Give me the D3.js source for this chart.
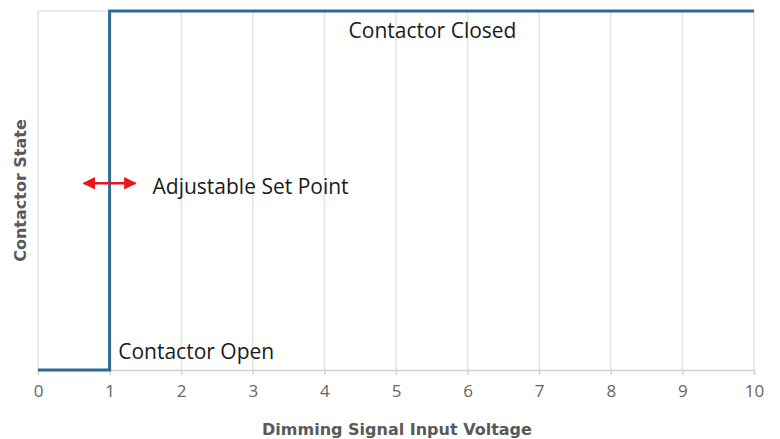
<!DOCTYPE html>
<html><head><meta charset="utf-8">
<script src="https://cdn.jsdelivr.net/npm/d3@7"></script>
<style>body{margin:0;background:#fff}</style>
</head><body>
<svg id="c" width="780" height="439"></svg>
<script>
const xTicks = [0,1,2,3,4,5,6,7,8,9,10];
const stateX = [0,1,1,10];
const stateY = [0,0,1,1];
const annotations = [
  {text:"Contactor Closed", x:5.51, y:0.925},
  {text:"Contactor Open", x:1.12, y:0.03},
  {text:"Adjustable Set Point", x:1.6, y:0.49}
];
const setPoint = 1, arrowHalf = 0.36, arrowY = 0.52;
const xTitle = "Dimming Signal Input Voltage", yTitle = "Contactor State";

const svg = d3.select("#c");
const L=38, R=754, T=11, B=370;
const x = d3.scaleLinear().domain([0,10]).range([L,R]);
const y = d3.scaleLinear().domain([0,1]).range([B,T]);

// grid
svg.append("g").selectAll("line").data(xTicks).join("line")
  .attr("x1",d=>x(d)).attr("x2",d=>x(d)).attr("y1",T).attr("y2",B)
  .attr("stroke","#e3e3e3").attr("stroke-width",1.5);
svg.append("line").attr("x1",L).attr("x2",R).attr("y1",y(1)).attr("y2",y(1))
  .attr("stroke","#e3e3e3").attr("stroke-width",1.5);

// x axis
const ax = svg.append("g").attr("transform",`translate(0,${B})`)
  .call(d3.axisBottom(x).tickValues(xTicks).tickSize(5).tickPadding(10).tickFormat(d3.format("d")));
ax.select(".domain").attr("stroke","#d4d4d4").attr("stroke-width",1.5);
ax.selectAll(".tick line").attr("stroke","#d4d4d4").attr("stroke-width",1.5);
ax.selectAll("text").attr("fill","#666").attr("font-size",17).attr("font-family","'Open Sans', sans-serif");

// step line
const pts = stateX.map((v,i)=>[v,stateY[i]]);
svg.append("path").datum(pts)
  .attr("d", d3.line().x(d=>x(d[0])).y(d=>y(d[1])))
  .attr("fill","none").attr("stroke","#2e6b8f").attr("stroke-width",3);

// arrow
const defs = svg.append("defs");
defs.append("marker").attr("id","ah").attr("viewBox","0 0 10 10").attr("refX",9).attr("refY",5)
  .attr("markerWidth",5).attr("markerHeight",5).attr("orient","auto-start-reverse")
  .append("path").attr("d","M0,0L10,5L0,10z").attr("fill","#e8161b");
svg.append("line").attr("x1",x(setPoint-arrowHalf)).attr("x2",x(setPoint+arrowHalf))
  .attr("y1",y(arrowY)).attr("y2",y(arrowY))
  .attr("stroke","#e8161b").attr("stroke-width",2.5)
  .attr("marker-start","url(#ah)").attr("marker-end","url(#ah)");

// annotations
svg.append("g").selectAll("text").data(annotations).join("text")
  .attr("x",d=>x(d.x)).attr("y",d=>y(d.y)).text(d=>d.text)
  .attr("font-family","'Open Sans', sans-serif").attr("font-size",21).attr("fill","#1a1a1a")
  .attr("text-anchor",(d,i)=>i===0?"middle":"start");

// titles
svg.append("text").attr("x",(L+R)/2+1).attr("y",435).attr("text-anchor","middle")
  .attr("font-family","'DejaVu Sans', sans-serif").attr("font-weight","bold").attr("font-size",16).attr("fill","#595959").text(xTitle);
svg.append("text").attr("transform",`translate(26,${(T+B)/2}) rotate(-90)`).attr("text-anchor","middle")
  .attr("font-family","'DejaVu Sans', sans-serif").attr("font-weight","bold").attr("font-size",16).attr("fill","#595959").text(yTitle);
</script>
</body></html>
